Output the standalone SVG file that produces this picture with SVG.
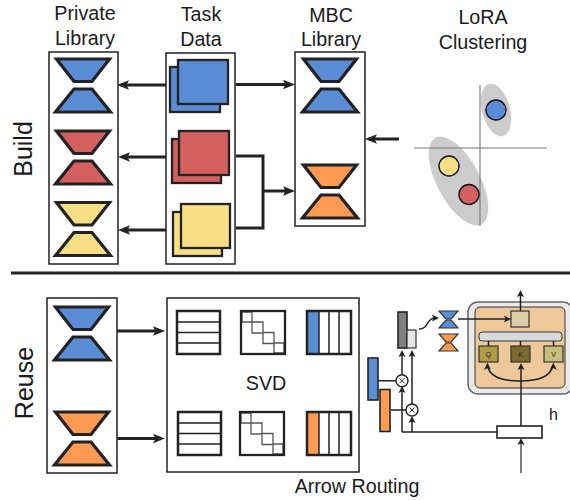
<svg xmlns="http://www.w3.org/2000/svg" width="570" height="500" viewBox="0 0 570 500">
<style>
text{font-family:"Liberation Sans",Arial,sans-serif;fill:#1a1a1a}
.h{font-size:19.700px;text-anchor:middle}
.side{font-size:25px;text-anchor:middle}
.box{fill:#fff;stroke:#222;stroke-width:1.5}
.hg{stroke:#222;stroke-width:3.200;stroke-linejoin:miter}
.sq{stroke:#222;stroke-width:2.300}
.blue{fill:#5b8dd6}.red{fill:#d45f5f}.yellow{fill:#f8df85}.orange{fill:#ff9a52}
.big{fill:none;stroke:#222;stroke-width:3}
.bigarrow{marker-end:url(#ah)}
.thin{fill:none;stroke:#222;stroke-width:1.500}
.smallarrow{marker-end:url(#as)}
.m{fill:#fff;stroke:#222;stroke-width:2.500}
.ml{stroke:#222;stroke-width:1.500;fill:none}
.d{fill:#fff;stroke:#555;stroke-width:1.300}
.bar{stroke:#222;stroke-width:1.600}
.sm{stroke:#333;stroke-width:1.200}
.q{font-size:7px;text-anchor:middle;fill:#222}
</style>
<defs>
<marker id="ah" markerUnits="userSpaceOnUse" markerWidth="13" markerHeight="12" refX="5" refY="6" orient="auto"><path d="M0 1.200L12 6L0 10.800L2.500 6Z" fill="#222"/></marker>
<marker id="as" markerUnits="userSpaceOnUse" markerWidth="9" markerHeight="9" refX="3" refY="4.500" orient="auto"><path d="M0 1L7 4.500L0 8L1.500 4.500Z" fill="#222"/></marker>
<g id="hourglass"><path d="M3.500 2H56.500L39 24.500H21Z"/><path d="M21 32H39L57.500 55H2.500Z"/></g>
<g id="mini"><path d="M0 0H19L12 8H7Z"/><path d="M7 9H12L19 17H0Z"/></g>
<g id="U"><rect class="m" width="43" height="43"/><path class="ml" d="M0 11H43M0 21.500H43M0 32H43"/></g>
<g id="S"><rect width="44" height="43" fill="#fff"/><path class="d" d="M1 1H11V11H1ZM11 11H22V22H11ZM22 21.500H33V32.500H22ZM33 32H43V42H33Z"/><rect width="44" height="43" fill="none" stroke="#222" stroke-width="2.300"/></g>
<g id="V"><path class="ml" d="M12 0V43M22 0V43M32 0V43"/><rect width="44" height="43" fill="none" stroke="#222" stroke-width="2.500"/></g>
</defs>

<g id="private-library">
<rect class="box" x="49" y="52" width="69" height="212"/>
<use href="#hourglass" class="hg blue" x="53" y="57"/>
<use href="#hourglass" class="hg red" x="53" y="129"/>
<use href="#hourglass" class="hg yellow" x="53" y="200.500"/>
</g>

<g id="task-data">
<rect class="box" x="166" y="53" width="69" height="211"/>
<rect class="sq blue" x="170" y="67" width="50" height="45"/><rect class="sq blue" x="178" y="60" width="50" height="44"/>
<rect class="sq red" x="172" y="139" width="49" height="44"/><rect class="sq red" x="179" y="131" width="50" height="44"/>
<rect class="sq yellow" x="173" y="212" width="49" height="44"/><rect class="sq yellow" x="181" y="204" width="49" height="44"/>
</g>

<g id="mbc-library">
<rect class="box" x="295" y="52" width="70" height="174"/>
<use href="#hourglass" class="hg blue" x="300" y="57"/>
<use href="#hourglass" class="hg orange" x="300" y="163"/>
</g>

<g id="lora-clustering">
<ellipse cx="496" cy="110" rx="14" ry="27" transform="rotate(-15 496 110)" fill="#cccccc"/>
<ellipse cx="458.500" cy="181" rx="21.500" ry="49" transform="rotate(-28 458.500 181)" fill="#cccccc"/>
<path d="M480 85V226M414 148H547" fill="none" stroke="#777" stroke-width="1.100"/>
<circle cx="496" cy="110" r="10" fill="#5b8dd6" stroke="#111" stroke-width="1.400"/>
<circle cx="449" cy="166" r="10" fill="#f8df85" stroke="#111" stroke-width="1.400"/>
<circle cx="469" cy="194.500" r="10" fill="#d45f5f" stroke="#111" stroke-width="1.400"/>
</g>

<g id="divider"><path d="M11 273H570" stroke="#222" stroke-width="3"/></g>

<g id="reuse-library">
<rect class="box" x="47" y="298" width="70" height="175"/>
<use href="#hourglass" class="hg blue" x="52" y="305"/>
<use href="#hourglass" class="hg orange" x="52" y="410"/>
</g>

<g id="svd">
<rect class="box" x="167" y="298" width="192" height="174"/>
<use href="#U" x="177" y="311"/><use href="#S" x="241" y="311"/>
<rect x="307" y="311" width="12" height="43" fill="#5b8dd6"/><use href="#V" x="307" y="311"/>
<use href="#U" x="178" y="412"/><use href="#S" x="240" y="412"/>
<rect x="307" y="412" width="12" height="43" fill="#ff9a52"/><use href="#V" x="307" y="412"/>
</g>

<g id="arrow-routing">
<rect class="bar" x="398" y="312" width="9" height="36" fill="#808080"/>
<rect class="sm" x="407" y="330" width="9" height="18" fill="#e6e6e6"/>
<rect class="bar" x="368" y="358" width="10" height="42" fill="#5b8dd6"/>
<rect class="bar" x="380" y="389.500" width="10" height="42" fill="#ff9a52"/>
<use href="#mini" class="sm blue" x="439" y="311"/>
<use href="#mini" class="sm orange" x="439" y="334"/>
<rect x="468" y="302" width="105" height="92" rx="10" fill="#eaeaea" stroke="#666" stroke-width="1.500"/>
<rect x="475" y="307" width="90" height="81" rx="5" fill="#ecc89a" stroke="#333" stroke-width="1"/>
<rect class="sm" x="511" y="311" width="18" height="16" fill="#d8cda8"/>
<rect x="479" y="332" width="83" height="9" rx="3" fill="#d6dadd" stroke="#333" stroke-width="1"/>
<rect class="sm" x="479" y="346" width="19" height="16" fill="#b09c44"/>
<rect class="sm" x="511" y="346" width="19" height="16" fill="#7b6b2c"/>
<rect class="sm" x="544" y="346" width="19" height="16" fill="#c8bc7a"/>
<text class="q" x="488.500" y="356.500">Q</text><text class="q" x="520.500" y="356.500">K</text><text class="q" x="553.500" y="356.500">V</text>
<rect x="497" y="426" width="45" height="12" fill="#fff" stroke="#222" stroke-width="1.600"/>
</g>

<g id="labels">
<text class="h" x="85" y="20">Private</text><text class="h" x="85" y="45">Library</text>
<text class="h" x="201" y="21">Task</text><text class="h" x="201" y="46">Data</text>
<text class="h" x="331" y="22">MBC</text><text class="h" x="331" y="46">Library</text>
<text class="h" x="483" y="24">LoRA</text><text class="h" x="483" y="49">Clustering</text>
<text class="side" transform="translate(32 149) rotate(-90)">Build</text>
<text class="side" transform="translate(33 383) rotate(-90)">Reuse</text>
<text class="h" x="266" y="390">SVD</text>
<text class="h" x="357" y="493">Arrow Routing</text>
<text x="549" y="420" font-size="16">h</text>
</g>

<g id="connectors">
<path class="big bigarrow" d="M166 85H124"/>
<path class="big bigarrow" d="M166 157H125"/>
<path class="big bigarrow" d="M166 230H125"/>
<path class="big bigarrow" d="M236 84.500H288"/>
<path class="big" d="M236 156H263V228H236"/>
<path class="big bigarrow" d="M263 191H288"/>
<path class="big bigarrow" d="M399 139H372"/>
<path class="big bigarrow" d="M117 331H158"/>
<path class="big bigarrow" d="M117 438.500H158"/>
<path class="thin" d="M378 380.700H396M391 410H406M402 432H497"/>
<path class="thin smallarrow" d="M402 432V390"/>
<path class="thin smallarrow" d="M402 374.500V354"/>
<path class="thin smallarrow" d="M412 432V420"/>
<path class="thin smallarrow" d="M412 404V354"/>
<path class="thin smallarrow" d="M419 329C429 329 426 318 435 318"/>
<path class="thin smallarrow" d="M458 319H507"/>
<path class="thin smallarrow" d="M520.500 311V294"/>
<path class="thin" d="M488.500 341V346M520.500 341V346M553.500 341V346"/>
<path class="thin smallarrow" d="M521 426V367"/>
<path d="M521 473V442" fill="none" stroke="#555" stroke-width="1.500" marker-end="url(#as)"/>
<path class="thin" d="M487.500 366C490 378 505 381 520 381C535 381 550 378 553 366"/>
<path d="M487.500 362.500L484 370L487.800 368L491 370ZM553.300 362.500L549.800 370L553.300 368L556.800 370Z" fill="#222"/>
<circle cx="402" cy="380.700" r="6" fill="#fff" stroke="#222" stroke-width="1.400"/>
<circle cx="412" cy="410" r="6" fill="#fff" stroke="#222" stroke-width="1.400"/>
<path class="thin" d="M399.500 378.200L404.500 383.200M404.500 378.200L399.500 383.200M409.500 407.500L414.500 412.500M414.500 407.500L409.500 412.500" style="stroke-width:1"/>
</g>
</svg>
